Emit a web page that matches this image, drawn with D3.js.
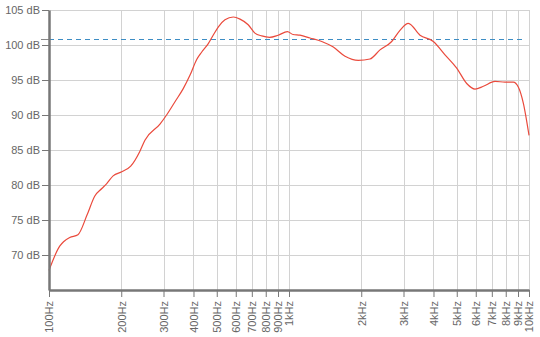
<!DOCTYPE html>
<html><head><meta charset="utf-8">
<script src="https://cdn.jsdelivr.net/npm/d3@7"></script>
<style>
body{margin:0;background:#fff;}
svg text{font-family:"Liberation Sans",Arial,sans-serif;font-size:11px;fill:#666;}
</style></head>
<body><svg id="c" width="540" height="337"></svg>
<script>
const freqs = [100,111,115,122,132,144,155,166,174,185,201,219,239,251,290,309,335,363,387,412,433,461,483,508,541,586,625,676,721,770,830,901,985,1040,1111,1223,1369,1530,1712,1944,2175,2394,2679,2900,3142,3514,3993,4467,4998,5501,5957,6451,7217,7943,8603,9024,9469,10000];
const levels = [67.8,71.3,71.9,72.5,72.9,75.7,78.4,79.5,80.2,81.3,81.9,82.7,84.8,86.4,88.7,90.0,91.9,93.8,95.7,97.9,99.0,100.2,101.4,102.6,103.6,104.0,103.7,102.9,101.7,101.3,101.1,101.4,101.9,101.5,101.4,101.0,100.5,99.7,98.4,97.8,98.0,99.3,100.5,102.1,103.1,101.4,100.5,98.6,96.7,94.5,93.7,94.1,94.8,94.7,94.7,94.0,91.7,87.1];
const xTicks = [100,200,300,400,500,600,700,800,900,1000,2000,3000,4000,5000,6000,7000,8000,9000,10000];
const xTickLabels = ["100Hz","200Hz","300Hz","400Hz","500Hz","600Hz","700Hz","800Hz","900Hz","1kHz","2kHz","3kHz","4kHz","5kHz","6kHz","7kHz","8kHz","9kHz","10kHz"];
const yTicks = [70,75,80,85,90,95,100,105];
const refLevel = 100.8;

const m = {l:49, t:10, r:11, b:47};
const W = 540, H = 337;
const svg = d3.select("#c");
const x = d3.scaleLog().domain([100,10000]).range([m.l, W-m.r]);
const y = d3.scaleLinear().domain([65,105]).range([H-m.b, m.t]);

// grid
svg.append("g").selectAll("line").data(yTicks).join("line")
  .attr("x1", m.l).attr("x2", W-m.r)
  .attr("y1", d=>Math.round(y(d))+0.5).attr("y2", d=>Math.round(y(d))+0.5)
  .attr("stroke","#d2d2d2").attr("stroke-width",1);
svg.append("g").selectAll("line").data(xTicks).join("line")
  .attr("x1", d=>Math.round(x(d))+0.5).attr("x2", d=>Math.round(x(d))+0.5)
  .attr("y1", m.t).attr("y2", H-m.b)
  .attr("stroke","#d2d2d2").attr("stroke-width",1);

// reference dashed line
svg.append("line")
  .attr("x1", m.l-8).attr("x2", m.l).attr("y1", Math.round(y(refLevel))+0.5).attr("y2", Math.round(y(refLevel))+0.5)
  .attr("stroke","#888").attr("stroke-width",1);
svg.append("line")
  .attr("x1", m.l).attr("x2", W-m.r-4).attr("y1", Math.round(y(refLevel))+0.5).attr("y2", Math.round(y(refLevel))+0.5)
  .attr("stroke","#3d8dc4").attr("stroke-width",1).attr("stroke-dasharray","5,4");

// curve
const line = d3.line().x((d,i)=>x(freqs[i])).y(d=>y(d)).curve(d3.curveMonotoneX);
svg.append("path").datum(levels).attr("d", line)
  .attr("fill","none").attr("stroke","#ea4a3c").attr("stroke-width",1.2);

// y axis
const ya = svg.append("g").attr("transform",`translate(${m.l},0)`)
  .call(d3.axisLeft(y).tickValues(yTicks).tickFormat(d=>d+" dB").tickSize(7).tickSizeOuter(0));
ya.select(".domain").attr("stroke","#777").attr("stroke-width",2.5);
ya.selectAll(".tick line").attr("stroke","#777");
ya.selectAll(".tick text").attr("fill","#666").attr("x",-9).style("font-size","11px");

// x axis
const xa = svg.append("g").attr("transform",`translate(0,${H-m.b})`)
  .call(d3.axisBottom(x).tickValues(xTicks).tickFormat((d,i)=>xTickLabels[i]).tickSize(7).tickSizeOuter(0));
xa.select(".domain").attr("stroke","#777").attr("stroke-width",2.5);
xa.selectAll(".tick line").attr("stroke","#777");
xa.selectAll(".tick text").attr("fill","#666")
  .attr("transform","rotate(-90)").attr("text-anchor","end")
  .attr("x",-11).attr("y",0).attr("dy","0.35em").style("font-size","11px");
</script></body></html>
